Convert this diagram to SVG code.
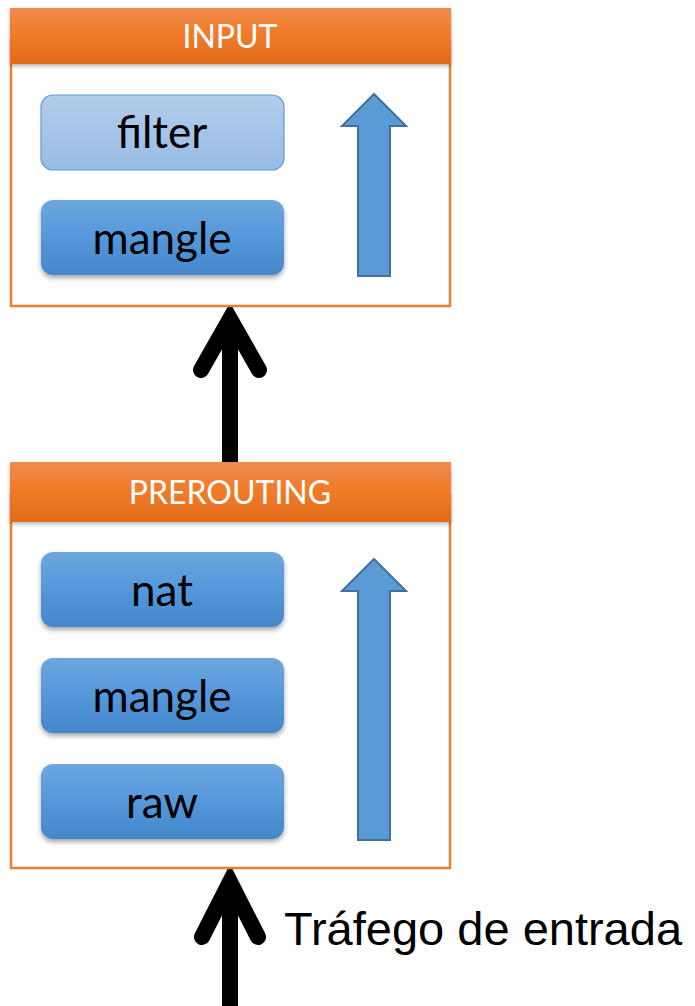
<svg xmlns="http://www.w3.org/2000/svg" width="695" height="1006" viewBox="0 0 695 1006">
  <style>
    .frame { fill: #ffffff; stroke: #ED7D31; stroke-width: 2.5; }
    .head { fill: url(#hdr); }
    .htxt { font-family: Lato, "Open Sans", sans-serif; font-size: 32px; fill: #ffffff; text-anchor: middle; }
    .tbl { fill: url(#tb); filter: url(#sh); }
    .tbl-lt { fill: url(#tbl); stroke: #5B9BD5; stroke-width: 1.2; }
    .ttxt { font-family: Lato, "Open Sans", sans-serif; font-size: 44px; fill: #000000; text-anchor: middle; }
    .flow { fill: #5B9BD5; stroke: #41719C; stroke-width: 2; }
    .link { stroke: #000000; stroke-width: 16; fill: none; }
    .tip { stroke: #000000; stroke-width: 16; fill: none; stroke-linecap: round; stroke-linejoin: miter; }
    .lbl { font-family: "Liberation Sans", Arial, sans-serif; font-size: 47px; fill: #000000; }
  </style>
  <defs>
    <linearGradient id="hdr" x1="0" y1="0" x2="0" y2="1">
      <stop offset="0" stop-color="#F08A4E"/>
      <stop offset="0.45" stop-color="#F07C2A"/>
      <stop offset="1" stop-color="#E26A1A"/>
    </linearGradient>
    <linearGradient id="tb" x1="0" y1="0" x2="0" y2="1">
      <stop offset="0" stop-color="#6EA6DE"/>
      <stop offset="0.5" stop-color="#5498DB"/>
      <stop offset="1" stop-color="#4387CB"/>
    </linearGradient>
    <linearGradient id="tbl" x1="0" y1="0" x2="0" y2="1">
      <stop offset="0" stop-color="#B1CCEB"/>
      <stop offset="1" stop-color="#9ABCE5"/>
    </linearGradient>
    <filter id="sh" x="-10%" y="-20%" width="120%" height="150%">
      <feDropShadow dx="0" dy="3" stdDeviation="2.5" flood-color="#000000" flood-opacity="0.35"/>
    </filter>
    <filter id="hsh" x="-5%" y="-20%" width="110%" height="150%">
      <feDropShadow dx="0" dy="2" stdDeviation="2" flood-color="#000000" flood-opacity="0.3"/>
    </filter>
  </defs>

  <!-- connectors -->
  <g id="connectors">
    <line class="link" x1="230" y1="318" x2="230" y2="463"/>
    <polyline class="tip" points="201,370 230,319 259,370"/>
    <line class="link" x1="230" y1="882" x2="230" y2="1006"/>
    <polyline class="tip" points="202,937 230,882 258,937"/>
    <text class="lbl" x="284" y="945">Tráfego de entrada</text>
  </g>

  <!-- INPUT chain -->
  <g id="input">
    <rect class="frame" x="11" y="40" width="439" height="266"/>
    <rect class="head" x="10" y="8" width="441" height="56" filter="url(#hsh)"/>
    <text class="htxt" x="230" y="48">INPUT</text>
    <g id="input-filter">
      <rect class="tbl-lt" x="41" y="95" width="243" height="75" rx="12"/>
      <text class="ttxt" x="162" y="148">filter</text>
    </g>
    <g id="input-mangle">
      <rect class="tbl" x="41" y="200" width="243" height="75" rx="12"/>
      <text class="ttxt" x="162" y="254">mangle</text>
    </g>
    <polygon class="flow" points="374,94 406,126 390,126 390,276 358,276 358,126 342,126"/>
  </g>

  <!-- PREROUTING chain -->
  <g id="prerouting">
    <rect class="frame" x="11" y="495" width="439" height="373"/>
    <rect class="head" x="10" y="462" width="441" height="60" filter="url(#hsh)"/>
    <text class="htxt" x="230" y="504">PREROUTING</text>
    <g id="pre-nat">
      <rect class="tbl" x="41" y="552" width="243" height="75" rx="12"/>
      <text class="ttxt" x="162" y="606">nat</text>
    </g>
    <g id="pre-mangle">
      <rect class="tbl" x="41" y="658" width="243" height="75" rx="12"/>
      <text class="ttxt" x="162" y="712">mangle</text>
    </g>
    <g id="pre-raw">
      <rect class="tbl" x="41" y="764" width="243" height="75" rx="12"/>
      <text class="ttxt" x="162" y="818">raw</text>
    </g>
    <polygon class="flow" points="374,559 406,591 390,591 390,840 358,840 358,591 342,591"/>
  </g>
</svg>
